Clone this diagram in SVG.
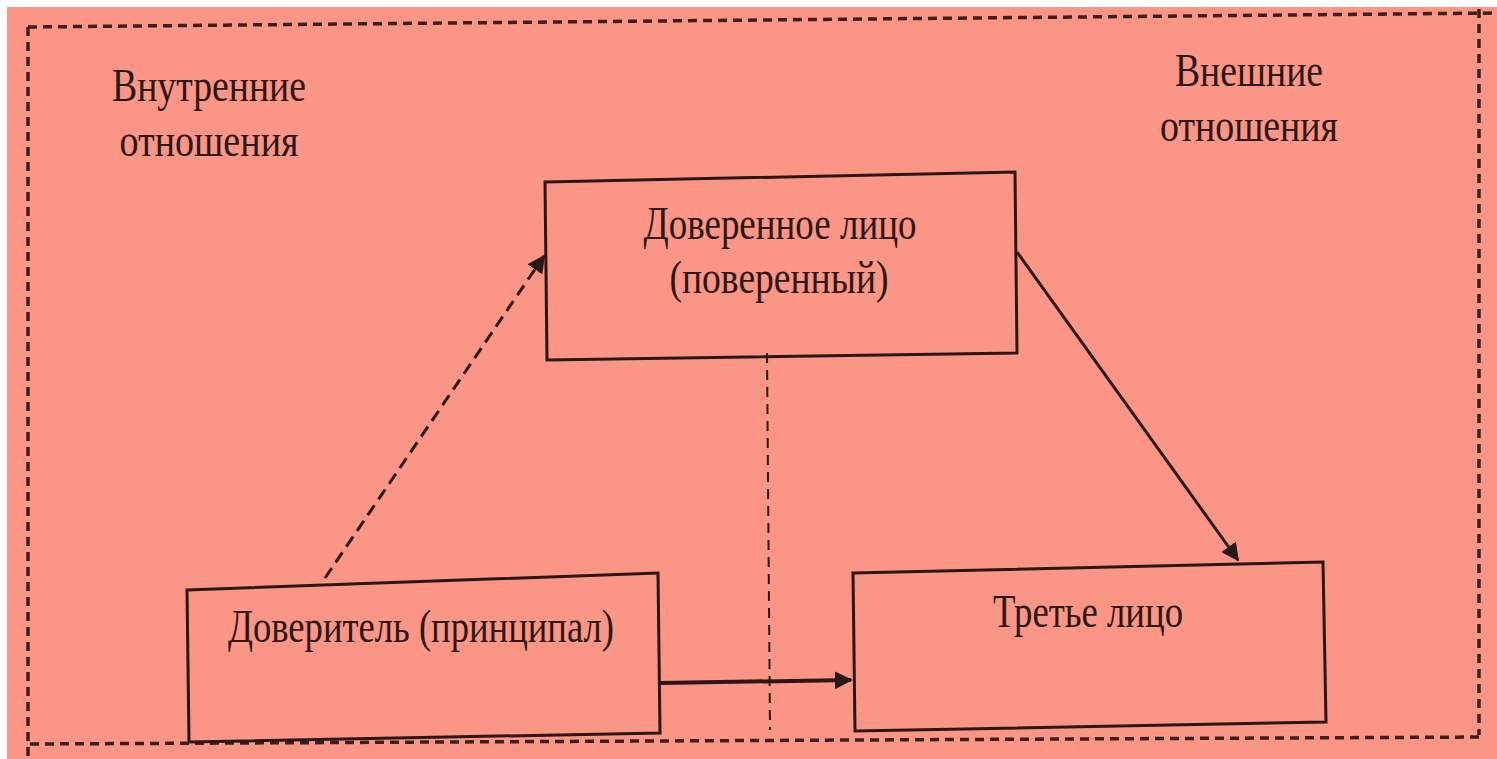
<svg xmlns="http://www.w3.org/2000/svg" width="1497" height="759" viewBox="0 0 1497 759">
<style>
.bg{fill:#FB9585}
.box{fill:none;stroke:#2a1716;stroke-width:3}
.t{font-family:"Liberation Serif","Times New Roman",serif;font-size:46px;fill:#2a1716}
.frame{fill:none;stroke:#3a1f1c;stroke-width:3.5;stroke-dasharray:9 6}
.sol{fill:none;stroke:#2a1716;stroke-width:3}
.dash{fill:none;stroke:#2a1716;stroke-width:3;stroke-dasharray:12 7}
.vdash{fill:none;stroke:#2a1716;stroke-width:2;stroke-dasharray:10 7}
</style>
<defs>
<marker id="ah2" viewBox="0 0 10 10" refX="9" refY="5" markerWidth="18" markerHeight="18" markerUnits="userSpaceOnUse" orient="auto">
<path d="M0,0 L10,5 L0,10 z" fill="#2a1716"/>
</marker>
</defs>
<rect x="0" y="0" width="1497" height="759" fill="#ffffff"/>
<rect class="bg" x="7" y="7" width="1490" height="752"/>
<g id="frame">
<path class="frame" d="M28,27 L1497,13"/>
<path class="frame" d="M28,27 L28,759"/>
<path class="frame" d="M1479,9 L1479,735"/>
<path class="frame" d="M30,744 L1482,737"/>
</g>
<g id="labels">
<text class="t" x="209" y="101" text-anchor="middle" textLength="194" lengthAdjust="spacingAndGlyphs">Внутренние</text>
<text class="t" x="209" y="156" text-anchor="middle" textLength="179" lengthAdjust="spacingAndGlyphs">отношения</text>
<text class="t" x="1249" y="86" text-anchor="middle" textLength="148" lengthAdjust="spacingAndGlyphs">Внешние</text>
<text class="t" x="1249" y="141" text-anchor="middle" textLength="178" lengthAdjust="spacingAndGlyphs">отношения</text>
</g>
<g id="node-agent">
<path class="box" d="M545,182 L1015,172 L1017,353 L547,360 Z"/>
<text class="t" x="780" y="239" text-anchor="middle" textLength="273" lengthAdjust="spacingAndGlyphs">Доверенное лицо</text>
<text class="t" x="779" y="293" text-anchor="middle" textLength="219" lengthAdjust="spacingAndGlyphs">(поверенный)</text>
</g>
<g id="node-principal">
<path class="box" d="M187,590 L658,573 L660,733 L189,742 Z"/>
<text class="t" x="421" y="642" text-anchor="middle" textLength="386" lengthAdjust="spacingAndGlyphs">Доверитель (принципал)</text>
</g>
<g id="node-third">
<path class="box" d="M853,573 L1323,562 L1326,722 L855,731 Z"/>
<text class="t" x="1088" y="627" text-anchor="middle" textLength="190" lengthAdjust="spacingAndGlyphs">Третье лицо</text>
</g>
<g id="connectors">
<path class="dash" d="M325,578 L544,256" marker-end="url(#ah2)"/>
<path class="sol" d="M1017,252 L1238,560" marker-end="url(#ah2)"/>
<path class="sol" style="stroke-width:4" d="M660,683 L851,680" marker-end="url(#ah2)"/>
<path class="vdash" d="M767,353 L770,730"/>
</g>
</svg>
